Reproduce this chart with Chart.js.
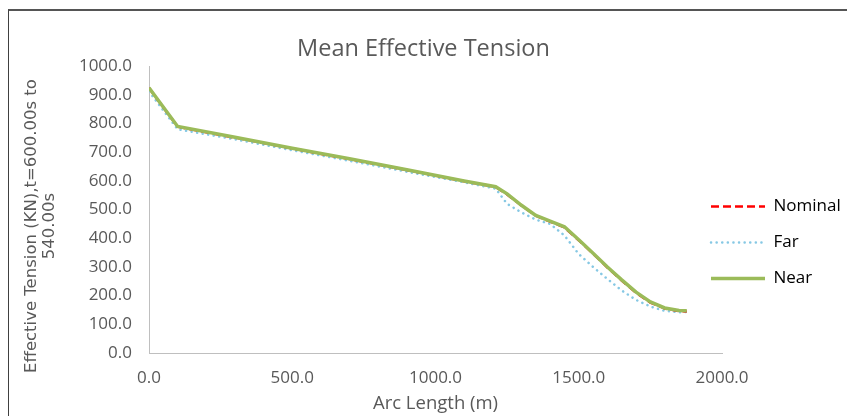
<!DOCTYPE html>
<html>
<head>
<meta charset="utf-8">
<title>Mean Effective Tension</title>
<script src="https://cdn.jsdelivr.net/npm/chart.js@4.4.1/dist/chart.umd.min.js"></script>
<style>
    html, body { margin: 0; padding: 0; background: #fff; }
    #wrap { position: relative; width: 847px; height: 416px; overflow: hidden; }
    #frame { position: absolute; left: 8px; top: 9px; width: 900px; height: 500px;
             border-left: 1px solid #404040; border-top: 2px solid #555; pointer-events: none; }
    canvas { position: absolute; left: 0; top: 0; }
</style>
</head>
<body>
<div id="wrap">
    <canvas id="tensionChart" width="847" height="416"></canvas>
    <div id="frame"></div>
</div>
<script>
// Arc length positions (m)
const arcLength = [0, 100, 300, 500, 700, 900, 1100, 1210, 1250, 1300, 1350, 1400, 1450, 1500, 1550, 1600, 1650, 1700, 1750, 1800, 1850, 1877];

// Mean effective tension (kN) for each case
const nominal = [924, 789, 751, 713, 676, 638, 599, 579, 553, 514, 479, 458, 438, 393, 346, 298, 253, 210, 176, 155, 146, 145];
const far     = [912, 780, 745, 707, 670, 632, 595, 573, 520, 490, 465, 450, 410, 345, 300, 258, 218, 185, 162, 147, 142, 143];
const near    = [925, 790, 752, 714, 677, 639, 600, 580, 555, 515, 480, 460, 440, 395, 348, 300, 255, 212, 178, 157, 148, 147];

const xTicks = [0, 500, 1000, 1500, 2000];
const yTitleLines = ['Effective Tension (KN),t=600.00s to', '540.00s'];

const textColor = '#595959';
const axisColor = '#BFBFBF';
const mainFont = 'Open Sans';

function toPoints(values) {
    return arcLength.map((x, i) => ({ x: x, y: values[i] }));
}

// draws the two-line y axis title where Excel puts it
const yTitlePlugin = {
    id: 'yTitle',
    afterDraw(chart) {
        const ctx = chart.ctx;
        ctx.save();
        ctx.font = '16.5px "DejaVu Sans"';
        ctx.fillStyle = textColor;
        ctx.textAlign = 'center';
        ctx.textBaseline = 'middle';
        const xs = [32, 50];
        yTitleLines.forEach((line, i) => {
            ctx.save();
            ctx.translate(xs[i], 226);
            ctx.rotate(-Math.PI / 2);
            ctx.fillText(line, 0, 0);
            ctx.restore();
        });
        ctx.restore();
    }
};

// moves the legend so its samples sit where the reference has them
const legendPlace = {
    id: 'legendPlace',
    afterLayout(chart) {
        const lg = chart.legend;
        lg.left = 692;
        lg.top = 179;
        lg.bottom = 416;
    }
};

function createTensionChart() {
    const ctx = document.getElementById('tensionChart').getContext('2d');
    new Chart(ctx, {
        type: 'line',
        data: {
            datasets: [{
                label: 'Nominal',
                data: toPoints(nominal),
                borderColor: '#FF0000',
                backgroundColor: 'transparent',
                borderWidth: 2.5,
                borderDash: [8, 4],
                order: 1
            }, {
                label: 'Far',
                data: toPoints(far),
                borderColor: '#86C8E4',
                backgroundColor: 'transparent',
                borderWidth: 2.5,
                borderDash: [0.1, 5.5],
                borderCapStyle: 'round',
                order: 2
            }, {
                label: 'Near',
                data: toPoints(near),
                borderColor: '#9BBB59',
                backgroundColor: 'transparent',
                borderWidth: 3.5,
                order: 0
            }]
        },
        options: {
            responsive: false,
            animation: false,
            events: [],
            elements: {
                point: { radius: 0 },
                line: { tension: 0 }
            },
            layout: { padding: 0 },
            scales: {
                x: {
                    type: 'linear',
                    min: 0,
                    max: 2000,
                    afterBuildTicks: scale => { scale.ticks = xTicks.map(v => ({ value: v })); },
                    afterFit: scale => { scale.height = 63; },
                    grid: { display: false, drawTicks: false },
                    border: { color: axisColor, width: 1 },
                    ticks: {
                        padding: 15,
                        color: textColor,
                        font: { family: mainFont, size: 17 },
                        maxRotation: 0,
                        callback: v => v.toFixed(1)
                    },
                    title: {
                        display: true,
                        text: 'Arc Length (m)',
                        color: textColor,
                        font: { family: mainFont, size: 18.5 },
                        padding: { top: 0, bottom: 1 }
                    }
                },
                y: {
                    min: 0,
                    max: 1000,
                    afterFit: scale => { scale.width = 149; },
                    grid: { display: false, drawTicks: false },
                    border: { color: axisColor, width: 1 },
                    ticks: {
                        stepSize: 100,
                        padding: 17,
                        color: textColor,
                        font: { family: mainFont, size: 17 },
                        callback: v => v.toFixed(1)
                    }
                }
            },
            plugins: {
                title: {
                    display: true,
                    text: 'Mean Effective Tension',
                    color: textColor,
                    font: { family: mainFont, size: 23.5, weight: 'normal' },
                    padding: { top: 35, bottom: 3 }
                },
                legend: {
                    position: 'right',
                    align: 'start',
                    maxWidth: 125,
                    labels: {
                        usePointStyle: true,
                        pointStyleWidth: 54,
                        padding: 19,
                        color: textColor,
                        font: { family: mainFont, size: 17 },
                        generateLabels: chart => chart.data.datasets.map((ds, i) => ({
                            text: ds.label,
                            datasetIndex: i,
                            fillStyle: ds.borderColor,
                            strokeStyle: ds.borderColor,
                            lineWidth: ds.borderWidth,
                            lineDash: ds.borderDash || [],
                            lineCap: ds.borderCapStyle || 'butt',
                            pointStyle: 'line',
                            hidden: false
                        }))
                    }
                },
                tooltip: { enabled: false }
            }
        },
        plugins: [yTitlePlugin, legendPlace]
    });
}

createTensionChart();
</script>
</body>
</html>
